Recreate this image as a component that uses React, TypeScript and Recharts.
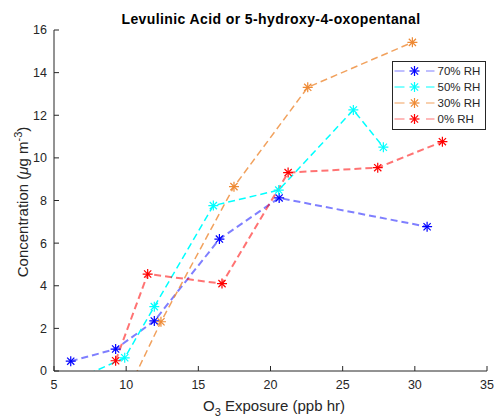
import { LineChart, Line, XAxis, YAxis, Legend, Label } from 'recharts'

// O3 exposure (ppb hr) and concentration (ug m^-3) per RH condition
const rh70X = [6.16, 9.27, 11.95, 16.46, 20.6, 30.85]
const rh70Y = [0.46, 1.03, 2.35, 6.19, 8.12, 6.77]
const rh50X = [6.0, 9.9, 11.95, 16.04, 20.57, 25.74, 27.82]
const rh50Y = [-0.56, 0.62, 3.02, 7.76, 8.49, 12.25, 10.5]
const rh30X = [9.6, 12.41, 17.47, 22.58, 29.83]
const rh30Y = [-1.65, 2.31, 8.65, 13.31, 15.42]
const rh0X = [9.27, 11.49, 16.64, 21.22, 27.43, 31.91]
const rh0Y = [0.48, 4.55, 4.1, 9.31, 9.54, 10.76]

const xTicks = [5, 10, 15, 20, 25, 30, 35]
const yTicks = [0, 2, 4, 6, 8, 10, 12, 14, 16]

const toPoints = (xs: number[], ys: number[]) => xs.map((x, i) => ({ x, y: ys[i] }))

const series = [
  { name: '70% RH', data: toPoints(rh70X, rh70Y), line: '#0000ff', lineOpacity: 0.5, width: 2, marker: '#0000ff' },
  { name: '50% RH', data: toPoints(rh50X, rh50Y), line: '#00ffff', lineOpacity: 1, width: 1.5, marker: '#00ffff' },
  { name: '30% RH', data: toPoints(rh30X, rh30Y), line: '#ee8a35', lineOpacity: 0.8, width: 1.5, marker: '#ee8a35' },
  { name: '0% RH', data: toPoints(rh0X, rh0Y), line: '#ff0000', lineOpacity: 0.55, width: 2, marker: '#ff0000' },
]

const font = '"Liberation Sans", Arial, Helvetica, sans-serif'
const axisColor = '#262626'

const star = (cx: number, cy: number, color: string, key?: string) => {
  const r = 5
  const d = 3.6
  return (
    <g key={key} stroke={color} strokeWidth={1.2}>
      <line x1={cx - r} y1={cy} x2={cx + r} y2={cy} />
      <line x1={cx} y1={cy - r} x2={cx} y2={cy + r} />
      <line x1={cx - d} y1={cy - d} x2={cx + d} y2={cy + d} />
      <line x1={cx - d} y1={cy + d} x2={cx + d} y2={cy - d} />
    </g>
  )
}

const makeDot = (color: string) => (props: any) => {
  const { cx, cy, index } = props
  if (cx == null || cy == null) return <g key={`d${index}`} />
  return star(cx, cy, color, `d${index}`)
}

const LegendBox = () => (
  <svg width={95} height={70} style={{ display: 'block' }}>
    <rect x={0.5} y={0.5} width={93} height={68} fill="#fff" stroke={axisColor} strokeWidth={1} />
    {series.map((s, i) => {
      const y = 10 + i * 16
      return (
        <g key={s.name}>
          <line x1={2.5} y1={y} x2={12.5} y2={y} stroke={s.line} strokeOpacity={s.lineOpacity} strokeWidth={1} />
          <line x1={34} y1={y} x2={42.5} y2={y} stroke={s.line} strokeOpacity={s.lineOpacity} strokeWidth={1} />
          {star(22.5, y, s.marker)}
          <text x={45.5} y={y + 4} fontSize={11.5} fontFamily={font} fill={axisColor}>{s.name}</text>
        </g>
      )
    })}
  </svg>
)

export default function App() {
  return (
    <div style={{ position: 'absolute', left: 0, top: 0, width: 498, height: 417, background: '#fff' }}>
      <LineChart width={498} height={417} margin={{ top: 30, right: 11, left: 0, bottom: 0 }}>
        <text x={271} y={24} textAnchor="middle" fontSize={14} letterSpacing={0.4} fontWeight="bold" fontFamily={font} fill="#000">
          Levulinic Acid or 5-hydroxy-4-oxopentanal
        </text>
        <XAxis
          dataKey="x"
          type="number"
          domain={[5, 35]}
          ticks={xTicks}
          height={46}
          tickSize={-5}
          tickMargin={14}
          stroke={axisColor}
          tick={{ fontSize: 12.5, fontFamily: font, fill: axisColor }}
        >
          <Label
            content={() => (
              <text x={274} y={410.5} textAnchor="middle" fontSize={15} fontFamily={font} fill={axisColor}>
                O<tspan dy={5} fontSize={11}>3</tspan>
                <tspan dy={-5}> Exposure (ppb hr)</tspan>
              </text>
            )}
          />
        </XAxis>
        <XAxis xAxisId="top" orientation="top" type="number" domain={[5, 35]} ticks={xTicks} height={0} tickSize={-5} tick={false} stroke={axisColor} />
        <YAxis
          type="number"
          domain={[0, 16]}
          ticks={yTicks}
          allowDataOverflow
          width={54}
          tickSize={-5}
          tickMargin={12}
          stroke={axisColor}
          tick={{ fontSize: 12.5, fontFamily: font, fill: axisColor }}
        >
          <Label
            content={() => (
              <text transform="translate(27.5,202) rotate(-90)" textAnchor="middle" fontSize={15} fontFamily={font} fill={axisColor}>
                Concentration (<tspan fontStyle="italic">μ</tspan>g m<tspan dy={-6} fontSize={11}>-3</tspan>
                <tspan dy={6}>)</tspan>
              </text>
            )}
          />
        </YAxis>
        <YAxis yAxisId="right" orientation="right" type="number" domain={[0, 16]} ticks={yTicks} width={0} tickSize={-5} tick={false} stroke={axisColor} />
        {series.map((s) => (
          <Line
            key={s.name}
            data={s.data}
            dataKey="y"
            name={s.name}
            type="linear"
            stroke={s.line}
            strokeOpacity={s.lineOpacity}
            strokeWidth={s.width}
            strokeDasharray="7 4"
            dot={makeDot(s.marker)}
            activeDot={false}
            isAnimationActive={false}
          />
        ))}
        <Legend
          layout="vertical"
          align="center"
          verticalAlign="middle"
          wrapperStyle={{ top: 61, left: 392, width: 95, height: 70 }}
          content={() => <LegendBox />}
        />
      </LineChart>
    </div>
  )
}
